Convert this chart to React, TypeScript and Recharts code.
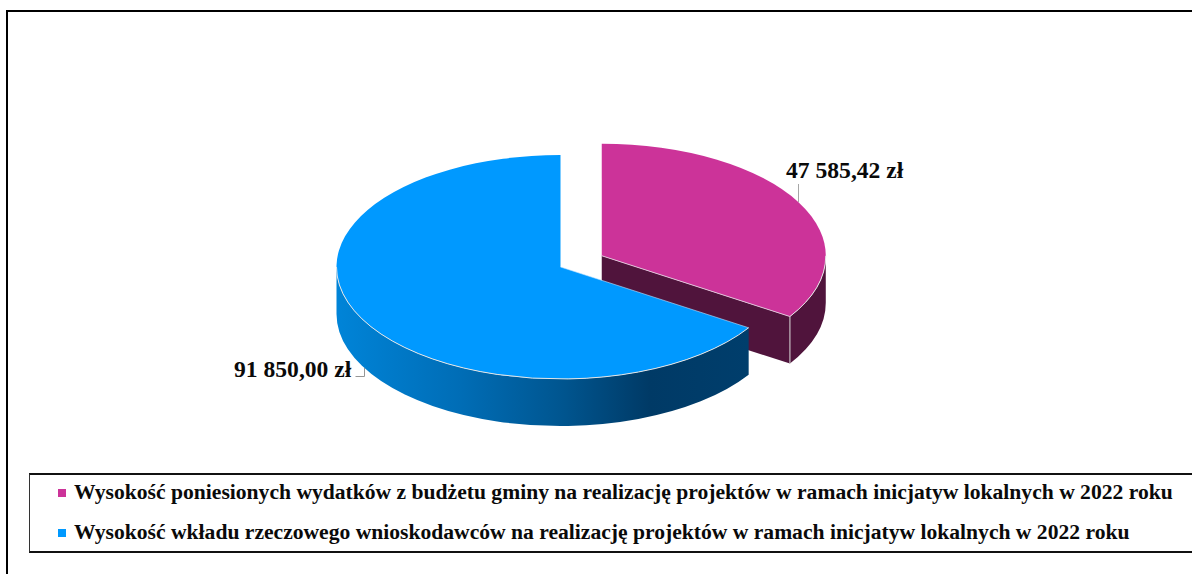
import React from "react";
import { PieChart, Pie, Cell, Legend } from "recharts";

const seriesNames = [
  "Wysokość poniesionych wydatków z budżetu gminy na realizację projektów w ramach inicjatyw lokalnych w 2022 roku",
  "Wysokość wkładu rzeczowego wnioskodawców na realizację projektów w ramach inicjatyw lokalnych w 2022 roku",
];
const seriesValues = [47585.42, 91850.0];
const topColors = ["#CC3399", "#0099FF"];
const chartData = seriesNames.map((name, i) => ({ name, value: seriesValues[i] }));

const FONT = '"Liberation Serif", "Times New Roman", serif';
const SQUASH = 0.5;
const DEPTH = 47;
const EXPLODE_RADIUS = 47;
const EXPLODED_INDEX = 0;
const RAD = Math.PI / 180;

const formatValue = (v: number) => {
  const [a, b] = v.toFixed(2).split(".");
  return `${a.replace(/\B(?=(\d{3})+$)/g, " ")},${b} zł`;
};

function explodeOffset(midAngle: number, isExploded: boolean) {
  if (!isExploded) return { dx: 0, dy: 0 };
  return {
    dx: EXPLODE_RADIUS * Math.cos(midAngle * RAD),
    dy: -EXPLODE_RADIUS * SQUASH * Math.sin(midAngle * RAD),
  };
}

function Slice3D(props: any) {
  const { cx, cy, outerRadius, startAngle, endAngle } = props;
  const idx = seriesNames.indexOf(props.name ?? props.payload?.name);
  const mid = (startAngle + endAngle) / 2;
  const { dx, dy } = explodeOffset(mid, idx === EXPLODED_INDEX);
  const ox = cx + dx;
  const oy = cy + dy;
  const rx = outerRadius;
  const ry = outerRadius * SQUASH;
  const pt = (a: number, drop = 0) => ({
    x: ox + rx * Math.cos(a * RAD),
    y: oy - ry * Math.sin(a * RAD) + drop,
  });
  const s = pt(startAngle);
  const e = pt(endAngle);
  const large = Math.abs(startAngle - endAngle) > 180 ? 1 : 0;
  const top = `M${ox},${oy} L${s.x},${s.y} A${rx},${ry} 0 ${large} 1 ${e.x},${e.y} Z`;

  const a1 = Math.min(startAngle, 0);
  const a2 = Math.max(endAngle, -180);
  const p1 = pt(a1);
  const p2 = pt(a2);
  const p1d = pt(a1, DEPTH);
  const p2d = pt(a2, DEPTH);
  const wall = `M${p1.x},${p1.y} A${rx},${ry} 0 0 1 ${p2.x},${p2.y} L${p2d.x},${p2d.y} A${rx},${ry} 0 0 0 ${p1d.x},${p1d.y} Z`;
  const edge = `M${p1.x},${p1.y} A${rx},${ry} 0 0 1 ${p2.x},${p2.y}`;
  const endWall = `M${ox},${oy} L${e.x},${e.y} L${e.x},${e.y + DEPTH} L${ox},${oy + DEPTH} Z`;
  const gradId = `wall-grad-${idx}`;
  const isBlue = idx === 1;
  const darkFill = "#50143C";
  return (
    <g>
      <defs>
        <linearGradient id={gradId} x1="0" y1="0" x2="1" y2="0">
          <stop offset="0" stopColor="#0084D8" />
          <stop offset="0.3" stopColor="#006DB6" />
          <stop offset="0.55" stopColor="#00558F" />
          <stop offset="0.76" stopColor="#003A66" />
          <stop offset="1" stopColor="#003E6C" />
        </linearGradient>
      </defs>
      {!isBlue && <path d={endWall} fill={darkFill} />}
      <path d={wall} fill={isBlue ? `url(#${gradId})` : darkFill} />
      {!isBlue && (
        <path d={`M${e.x},${e.y} L${e.x},${e.y + DEPTH}`} stroke="#D9D9D9" strokeWidth={1} fill="none" />
      )}
      <path d={top} fill={topColors[idx]} />
      <path d={edge} stroke="#E6E6E6" strokeWidth={1} fill="none" />
      {!isBlue && (
        <path d={`M${ox},${oy} L${e.x},${e.y}`} stroke="#E0C0D8" strokeWidth={1} fill="none" />
      )}
      {isBlue && (
        <path d={`M${ox},${oy} L${s.x},${s.y}`} stroke="#BFE3FF" strokeWidth={0.6} fill="none" />
      )}
    </g>
  );
}

function SliceLabel(props: any) {
  const { cx, cy, outerRadius, midAngle, value, index } = props;
  const exploded = index === EXPLODED_INDEX;
  const { dx, dy } = explodeOffset(midAngle, exploded);
  const ax = Math.round(cx + dx + outerRadius * Math.cos(midAngle * RAD)) + 0.5;
  const ay = Math.round(cy + dy - outerRadius * SQUASH * Math.sin(midAngle * RAD));
  const textProps = {
    fontFamily: FONT,
    fontWeight: 700,
    fontSize: 23.6,
    fill: "#0A0A0A",
  };
  if (exploded) {
    return (
      <g>
        <path d={`M${ax},${ay} L${ax},${ay - 18}`} stroke="#A6A6A6" strokeWidth={1} fill="none" />
        <text x={ax - 12.5} y={ay - 24} {...textProps}>
          {formatValue(value)}
        </text>
      </g>
    );
  }
  const by = ay + DEPTH;
  return (
    <g>
      <path d={`M${ax},${by} L${ax},${by + 8.5} L${ax - 9},${by + 8.5}`} stroke="#969696" strokeWidth={1} fill="none" />
      <text x={ax - 130.5} y={by + 9} {...textProps}>
        {formatValue(value)}
      </text>
    </g>
  );
}

function LegendBox(props: any) {
  const items = props.payload ?? [];
  return (
    <div
      style={{
        boxSizing: "border-box",
        width: 1163,
        height: 80,
        borderTop: "2px solid #111",
        borderBottom: "2px solid #111",
        borderLeft: "1px solid #333",
        background: "#fff",
        paddingLeft: 28,
        paddingTop: 1,
        fontFamily: FONT,
        fontWeight: 700,
        fontSize: 21.6,
        color: "#0A0A0A",
        whiteSpace: "nowrap",
      }}
    >
      {items.map((it: any, i: number) => (
        <div key={i} style={{ display: "flex", alignItems: "center", height: 33, marginBottom: 7 }}>
          <span style={{ width: 8, height: 8, background: topColors[seriesNames.indexOf(it.value)], marginRight: 8, flex: "none" }} />
          <span>{it.value}</span>
        </div>
      ))}
    </div>
  );
}

export default function App() {
  return (
    <div style={{ position: "absolute", left: 0, top: 0, width: 1192, height: 574, background: "#fff", overflow: "hidden" }}>
      <div style={{ position: "absolute", left: 6, top: 10, right: 0, bottom: 0, borderTop: "2px solid #000", borderLeft: "2px solid #000" }} />
      <div style={{ position: "absolute", left: 0, top: 0 }}>
        <PieChart width={1192} height={574} margin={{ top: 0, right: 0, bottom: 0, left: 0 }}>
          <Pie
            data={chartData}
            dataKey="value"
            nameKey="name"
            cx={560.5}
            cy={267}
            outerRadius={224}
            startAngle={90}
            endAngle={-270}
            stroke="none"
            isAnimationActive={false}
            shape={Slice3D}
            label={SliceLabel}
            labelLine={false}
          >
            {chartData.map((d, i) => (
              <Cell key={d.name} fill={topColors[i]} />
            ))}
          </Pie>
          <Legend
            content={LegendBox}
            wrapperStyle={{ position: "absolute", left: 29, top: 473, width: 1163, height: 80 }}
          />
        </PieChart>
      </div>
    </div>
  );
}
